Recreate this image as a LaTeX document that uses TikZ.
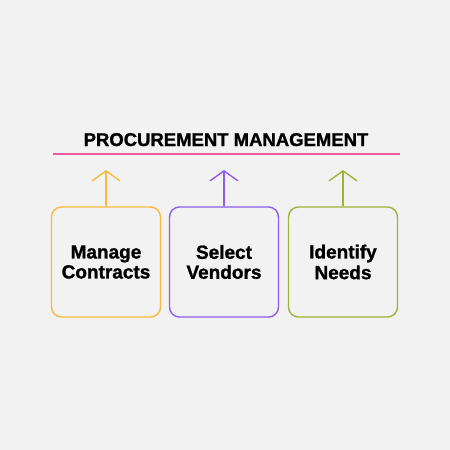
\documentclass[tikz,border=0pt]{standalone}
\usepackage{fontspec}
\setmainfont{Liberation Sans}
\newfontfamily\heavyfont[FakeBold=1.2]{Liberation Sans Bold}
\usetikzlibrary{arrows.meta}
\definecolor{bg}{HTML}{F2F2F2}
\definecolor{cA}{HTML}{F6BB3A}
\definecolor{cB}{HTML}{8E5CEB}
\definecolor{cC}{HTML}{9DB33A}
\definecolor{cP}{HTML}{EE5A9B}
\begin{document}
\begin{tikzpicture}[x=1pt,y=-1pt,
  boxstyle/.style={draw=#1, line width=1.4pt, rounded corners=10pt, minimum width=109pt, minimum height=110pt, align=center, inner sep=0pt, font=\heavyfont\fontsize{19}{20}\selectfont, text=black},
  uparrow/.style={draw=#1, line width=1.5pt, -{Straight Barb[length=10pt,width=28pt,line width=1.4pt]}}
]
\useasboundingbox[fill=bg] (0,0) rectangle (450,450);
\node[anchor=base, font=\heavyfont\fontsize{18.5}{20}\selectfont] (title) at (226,146) {PROCUREMENT MANAGEMENT};
\coordinate (pl) at (53,154);
\coordinate (pr) at (400,154);
\draw[cP, line width=1.6pt] (pl) -- (pr);
\node[boxstyle=cA] (b1) at (106,262) {Manage\\Contracts};
\node[boxstyle=cB] (b2) at (224,262) {Select\\Vendors};
\node[boxstyle=cC] (b3) at (343,262) {\raisebox{-3pt}{\shortstack{Identify\\Needs}}};
\coordinate (t1) at (b1.north |- 0,170);
\coordinate (t2) at (b2.north |- 0,170);
\coordinate (t3) at (b3.north |- 0,170);
\draw[uparrow=cA] (b1.north) -- (t1);
\draw[uparrow=cB] (b2.north) -- (t2);
\draw[uparrow=cC] (b3.north) -- (t3);
\end{tikzpicture}
\end{document}
